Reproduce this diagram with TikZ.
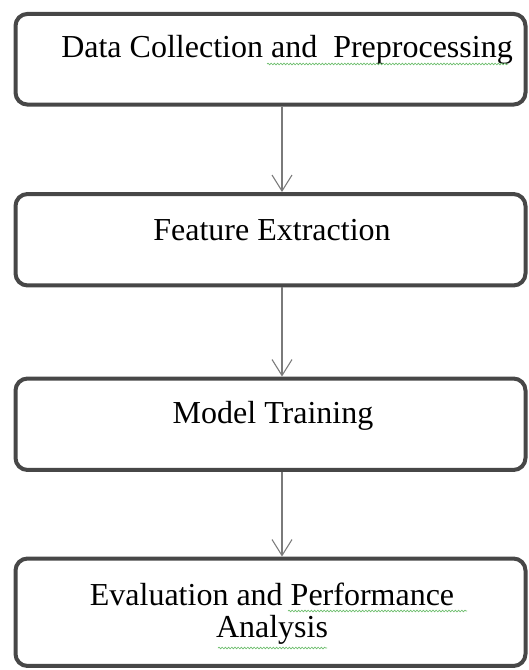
\documentclass[tikz,border=0pt]{standalone}
\usepackage{fontspec}
\setmainfont{Liberation Serif}
\usetikzlibrary{arrows.meta,decorations.pathmorphing}
\definecolor{boxline}{HTML}{474747}
\definecolor{arrowline}{HTML}{7A7A7A}
\definecolor{spellgreen}{HTML}{6DBE6D}
\begin{document}
\begin{tikzpicture}[x=0.75pt,y=-0.75pt,
  stepbox/.style={draw=boxline, line width=3pt, rounded corners=9pt, fill=white,
    inner sep=0pt, minimum width=382.5pt},
  steptext/.style={anchor=base, inner sep=0pt, font=\fontsize{24}{24}\selectfont},
  flow/.style={draw=arrowline, line width=0.8pt, -{Straight Barb[length=12pt,width=15pt,line width=0.8pt]}},
  wavy/.style={draw=spellgreen, line width=0.5pt, decorate,
    decoration={snake, amplitude=0.6pt, segment length=2.4pt}}]
\useasboundingbox (0,0) rectangle (528,670);
\node[stepbox, minimum height=68pt] (b1) at (270.5,59.25) {};
\node[stepbox, minimum height=68.6pt] (b2) at (270.5,239.75) {};
\node[stepbox, minimum height=68.6pt] (b3) at (270.5,424.25) {};
\node[stepbox, minimum height=80.6pt] (b4) at (270.5,612.25) {};
\coordinate (ax) at (282,0);
\node[steptext] (t1) at (287,58) {Data Collection and\ \ Preprocessing};
\node[steptext] (t2) at (272,240) {Feature Extraction};
\node[steptext] (t3) at (273,423) {Model Training};
\node[steptext] (t4a) at (272,605) {Evaluation and Performance};
\node[steptext] (t4b) at (272,637) {Analysis};
\draw[flow] (b1.south -| ax) -- (b2.north -| ax);
\draw[flow] (b2.south -| ax) -- (b3.north -| ax);
\draw[flow] (b3.south -| ax) -- (b4.north -| ax);
\draw[wavy] (267,64) -- (508,64);
\draw[wavy] (288,611) -- (467,611);
\draw[wavy] (218,648) -- (327,648);
\end{tikzpicture}
\end{document}
